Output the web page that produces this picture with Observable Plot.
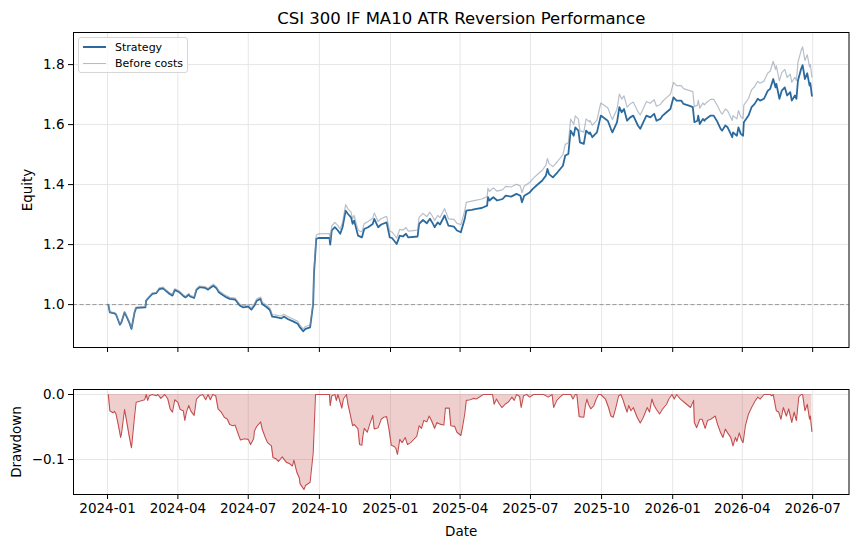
<!DOCTYPE html>
<html><head><meta charset="utf-8">
<script src="https://cdn.jsdelivr.net/npm/d3@7"></script>
<script src="https://cdn.jsdelivr.net/npm/@observablehq/plot@0.6"></script>
<style>
body{margin:0;background:#fff;font-family:"DejaVu Sans",sans-serif}
#wrap{position:relative;width:857px;height:547px;overflow:hidden}
#wrap svg{display:block}
.legend{position:absolute;left:78px;top:37px;width:108px;height:34px;border:1px solid #d6d6d6;border-radius:3px;background:rgba(255,255,255,0.8);font-family:"DejaVu Sans",sans-serif;font-size:11px;color:#000}
.row{position:absolute;left:4px;height:14px;display:flex;align-items:center}
.sw{width:23px;margin-right:9px}
</style></head>
<body><div id="wrap"></div>
<script>
const title = "CSI 300 IF MA10 ATR Reversion Performance";
const xTicks = ["2024-01-01","2024-04-01","2024-07-01","2024-10-01","2025-01-01","2025-04-01","2025-07-01","2025-10-01","2026-01-01","2026-04-01","2026-07-01"];
const yTicksEquity = [1.0, 1.2, 1.4, 1.6, 1.8];
const yTicksDrawdown = [0.0, -0.1];

const dates = ["2024-01-02","2024-01-04","2024-01-10","2024-01-12","2024-01-17","2024-01-19","2024-01-23","2024-01-26","2024-01-29","2024-02-01",
"2024-02-05","2024-02-07","2024-02-19","2024-02-20","2024-02-23","2024-02-28","2024-03-04","2024-03-08","2024-03-13","2024-03-15",
"2024-03-21","2024-03-25","2024-03-28","2024-04-03","2024-04-08","2024-04-11","2024-04-15","2024-04-17","2024-04-22","2024-04-25",
"2024-04-29","2024-05-06","2024-05-10","2024-05-13","2024-05-17","2024-05-21","2024-05-24","2024-05-29","2024-06-03","2024-06-07",
"2024-06-14","2024-06-20","2024-06-24","2024-07-01","2024-07-05","2024-07-09","2024-07-12","2024-07-17","2024-07-19","2024-07-25",
"2024-07-29","2024-08-01","2024-08-06","2024-08-13","2024-08-16","2024-08-21","2024-08-28","2024-09-03","2024-09-06","2024-09-10",
"2024-09-13","2024-09-19","2024-09-23","2024-09-24","2024-09-27","2024-09-30","2024-10-14","2024-10-15","2024-10-17","2024-10-21",
"2024-10-25","2024-10-28","2024-10-31","2024-11-04","2024-11-07","2024-11-11","2024-11-13","2024-11-15","2024-11-20","2024-11-25",
"2024-11-28","2024-12-03","2024-12-09","2024-12-11","2024-12-16","2024-12-20","2024-12-27","2024-12-31","2025-01-03","2025-01-09",
"2025-01-13","2025-01-17","2025-01-21","2025-01-24","2025-02-05","2025-02-07","2025-02-12","2025-02-17","2025-02-21","2025-02-25",
"2025-02-27","2025-03-03","2025-03-06","2025-03-12","2025-03-17","2025-03-24","2025-03-28","2025-04-02","2025-04-07","2025-04-09",
"2025-04-16","2025-04-22","2025-04-29","2025-05-06","2025-05-07","2025-05-09","2025-05-14","2025-05-19","2025-05-26","2025-05-30",
"2025-06-06","2025-06-13","2025-06-18","2025-06-20","2025-06-23","2025-06-30","2025-07-04","2025-07-11","2025-07-16","2025-07-21",
"2025-07-23","2025-07-25","2025-07-30","2025-08-05","2025-08-12","2025-08-15","2025-08-19","2025-08-22","2025-08-26","2025-08-28",
"2025-09-01","2025-09-03","2025-09-08","2025-09-11","2025-09-15","2025-09-16","2025-09-19","2025-09-25","2025-09-30","2025-10-09",
"2025-10-13","2025-10-15","2025-10-21","2025-10-24","2025-10-27","2025-10-30","2025-11-03","2025-11-07","2025-11-11","2025-11-17",
"2025-11-20","2025-11-24","2025-11-28","2025-12-03","2025-12-08","2025-12-11","2025-12-16","2025-12-19","2025-12-24","2025-12-29",
"2026-01-02","2026-01-06","2026-01-12","2026-01-15","2026-01-22","2026-01-27","2026-01-29","2026-02-02","2026-02-03","2026-02-05",
"2026-02-09","2026-02-11","2026-02-13","2026-02-19","2026-02-23","2026-02-27","2026-03-04","2026-03-06","2026-03-10","2026-03-13",
"2026-03-19","2026-03-20","2026-03-25","2026-03-27","2026-03-30","2026-04-02","2026-04-03","2026-04-09","2026-04-13","2026-04-17",
"2026-04-21","2026-04-24","2026-04-29","2026-05-04","2026-05-07","2026-05-11","2026-05-14","2026-05-15","2026-05-19","2026-05-22",
"2026-05-26","2026-05-29","2026-06-02","2026-06-04","2026-06-08","2026-06-10","2026-06-12","2026-06-16","2026-06-18","2026-06-21",
"2026-06-24","2026-06-27","2026-06-28","2026-06-30"];

const strategy = [1.000,0.974,0.971,0.967,0.933,0.941,0.974,0.958,0.941,0.919,
0.974,0.989,0.991,1.013,1.022,1.036,1.038,1.052,1.054,1.049,
1.036,1.030,1.049,1.041,1.029,1.024,1.033,1.027,1.022,1.049,
1.058,1.056,1.050,1.056,1.063,1.054,1.041,1.032,1.024,1.019,
1.017,0.997,0.991,0.993,0.983,0.997,1.013,1.019,1.002,0.991,
0.982,0.960,0.958,0.954,0.960,0.952,0.944,0.936,0.924,0.911,
0.919,0.924,1.002,1.102,1.219,1.222,1.222,1.200,1.247,1.258,
1.247,1.236,1.258,1.313,1.302,1.291,1.269,1.280,1.230,1.224,
1.252,1.258,1.269,1.286,1.258,1.267,1.274,1.224,1.222,1.202,
1.230,1.227,1.236,1.224,1.227,1.269,1.282,1.271,1.286,1.269,
1.258,1.274,1.267,1.297,1.263,1.260,1.247,1.241,1.286,1.313,
1.316,1.319,1.322,1.330,1.358,1.347,1.358,1.347,1.352,1.363,
1.360,1.369,1.363,1.341,1.363,1.374,1.386,1.402,1.413,1.430,
1.452,1.435,1.424,1.441,1.463,1.497,1.502,1.580,1.563,1.591,
1.580,1.541,1.536,1.580,1.569,1.574,1.558,1.574,1.630,1.613,
1.586,1.574,1.608,1.658,1.641,1.652,1.613,1.624,1.630,1.597,
1.586,1.608,1.630,1.624,1.636,1.613,1.619,1.630,1.641,1.652,
1.691,1.680,1.680,1.669,1.663,1.658,1.608,1.613,1.630,1.602,
1.619,1.613,1.619,1.630,1.630,1.613,1.586,1.580,1.597,1.591,
1.558,1.574,1.563,1.591,1.569,1.563,1.608,1.630,1.658,1.669,
1.686,1.680,1.686,1.713,1.719,1.752,1.724,1.736,1.686,1.713,
1.724,1.697,1.708,1.680,1.697,1.686,1.747,1.785,1.798,1.752,
1.771,1.730,1.738,1.696];

const beforeCosts = [1.000,0.976,0.973,0.969,0.935,0.943,0.977,0.961,0.944,0.922,
0.977,0.992,0.994,1.016,1.025,1.039,1.041,1.056,1.058,1.053,
1.040,1.034,1.053,1.045,1.033,1.028,1.037,1.031,1.026,1.053,
1.062,1.060,1.054,1.061,1.068,1.059,1.046,1.037,1.029,1.024,
1.022,1.002,0.996,0.999,0.989,1.003,1.019,1.025,1.008,0.998,
0.989,0.967,0.965,0.962,0.968,0.960,0.952,0.944,0.932,0.919,
0.927,0.932,1.011,1.112,1.231,1.236,1.237,1.215,1.262,1.274,
1.263,1.252,1.274,1.333,1.319,1.308,1.286,1.297,1.248,1.242,
1.270,1.277,1.288,1.305,1.277,1.287,1.294,1.244,1.242,1.222,
1.251,1.248,1.257,1.245,1.248,1.291,1.304,1.293,1.308,1.291,
1.280,1.297,1.290,1.320,1.286,1.284,1.271,1.266,1.313,1.341,
1.345,1.348,1.352,1.360,1.388,1.377,1.389,1.378,1.383,1.394,
1.392,1.401,1.395,1.373,1.395,1.407,1.419,1.436,1.447,1.465,
1.487,1.470,1.460,1.477,1.500,1.534,1.539,1.618,1.601,1.629,
1.618,1.580,1.575,1.619,1.609,1.614,1.598,1.615,1.672,1.656,
1.629,1.617,1.652,1.702,1.685,1.696,1.658,1.669,1.675,1.643,
1.632,1.654,1.677,1.671,1.683,1.661,1.667,1.678,1.690,1.701,
1.741,1.730,1.730,1.720,1.714,1.710,1.660,1.665,1.682,1.655,
1.672,1.666,1.672,1.684,1.684,1.667,1.641,1.635,1.652,1.646,
1.614,1.630,1.619,1.647,1.626,1.620,1.665,1.687,1.716,1.727,
1.744,1.738,1.745,1.772,1.778,1.811,1.784,1.796,1.746,1.773,
1.784,1.757,1.768,1.741,1.758,1.747,1.808,1.846,1.859,1.814,
1.833,1.792,1.800,1.758];

const ddDates = ["2024-01-02","2024-01-03","2024-01-04","2024-01-08","2024-01-10","2024-01-12","2024-01-15","2024-01-18","2024-01-19","2024-01-23",
"2024-01-26","2024-01-29","2024-02-01","2024-02-05","2024-02-07","2024-02-18","2024-02-20","2024-02-22","2024-02-24","2024-02-28",
"2024-03-04","2024-03-06","2024-03-10","2024-03-15","2024-03-19","2024-03-21","2024-03-22","2024-03-25","2024-03-28","2024-04-01",
"2024-04-04","2024-04-08","2024-04-10","2024-04-12","2024-04-15","2024-04-18","2024-04-22","2024-04-25","2024-04-29","2024-05-03",
"2024-05-07","2024-05-10","2024-05-13","2024-05-16","2024-05-20","2024-05-23","2024-05-27","2024-05-31","2024-06-04","2024-06-07",
"2024-06-11","2024-06-14","2024-06-19","2024-06-21","2024-06-26","2024-07-01","2024-07-04","2024-07-08","2024-07-09","2024-07-12",
"2024-07-17","2024-07-19","2024-07-23","2024-07-26","2024-07-31","2024-08-02","2024-08-06","2024-08-09","2024-08-14","2024-08-19",
"2024-08-23","2024-08-27","2024-08-29","2024-09-02","2024-09-05","2024-09-06","2024-09-11","2024-09-13","2024-09-19","2024-09-23",
"2024-09-26","2024-10-14","2024-10-15","2024-10-17","2024-10-21","2024-10-23","2024-10-25","2024-10-30","2024-11-01","2024-11-05",
"2024-11-07","2024-11-08","2024-11-13","2024-11-15","2024-11-20","2024-11-22","2024-11-25","2024-11-26","2024-11-28","2024-12-02",
"2024-12-05","2024-12-09","2024-12-11","2024-12-16","2024-12-20","2024-12-23","2024-12-27","2024-12-30","2025-01-02","2025-01-06",
"2025-01-08","2025-01-10","2025-01-13","2025-01-16","2025-01-20","2025-01-23","2025-01-27","2025-01-31","2025-02-04","2025-02-07",
"2025-02-10","2025-02-13","2025-02-17","2025-02-20","2025-02-23","2025-02-27","2025-03-02","2025-03-07","2025-03-11","2025-03-13",
"2025-03-18","2025-03-20","2025-03-25","2025-03-28","2025-04-02","2025-04-04","2025-04-07","2025-04-09","2025-04-14","2025-04-18",
"2025-04-22","2025-04-27","2025-05-01","2025-05-13","2025-05-15","2025-05-18","2025-05-22","2025-05-25","2025-05-29","2025-06-02",
"2025-06-07","2025-06-10","2025-06-13","2025-06-17","2025-06-19","2025-06-22","2025-06-26","2025-06-30","2025-07-05","2025-07-18",
"2025-07-24","2025-07-29","2025-07-31","2025-08-04","2025-08-08","2025-08-12","2025-08-22","2025-08-25","2025-08-28","2025-08-30",
"2025-09-02","2025-09-08","2025-09-10","2025-09-12","2025-09-14","2025-09-17","2025-09-21","2025-09-24","2025-09-27","2025-09-30",
"2025-10-06","2025-10-10","2025-10-13","2025-10-16","2025-10-19","2025-10-23","2025-10-26","2025-10-29","2025-10-31","2025-11-03",
"2025-11-05","2025-11-08","2025-11-11","2025-11-16","2025-11-20","2025-11-24","2025-11-29","2025-12-02","2025-12-05","2025-12-08",
"2025-12-11","2025-12-15","2025-12-19","2025-12-24","2025-12-27","2025-12-31","2026-01-03","2026-01-06","2026-01-11","2026-01-17",
"2026-01-24","2026-01-28","2026-01-29","2026-02-01","2026-02-05","2026-02-08","2026-02-12","2026-02-15","2026-02-19","2026-02-25",
"2026-02-28","2026-03-04","2026-03-07","2026-03-10","2026-03-13","2026-03-17","2026-03-20","2026-03-23","2026-03-25","2026-03-28",
"2026-03-31","2026-04-02","2026-04-05","2026-04-09","2026-04-13","2026-04-18","2026-04-21","2026-04-24","2026-04-29","2026-05-07",
"2026-05-09","2026-05-11","2026-05-15","2026-05-18","2026-05-21","2026-05-24","2026-05-28","2026-05-31","2026-06-04","2026-06-07",
"2026-06-10","2026-06-13","2026-06-16","2026-06-18","2026-06-21","2026-06-24","2026-06-27","2026-06-28","2026-06-30"];

const drawdown = [0,-0.012,-0.025,-0.028,-0.026,-0.030,-0.047,-0.066,-0.061,-0.023,
-0.043,-0.064,-0.082,-0.033,-0.012,-0.008,0,-0.009,-0.002,0,
-0.002,0,-0.006,0,-0.007,-0.017,-0.022,-0.027,-0.008,-0.012,
-0.023,-0.025,-0.040,-0.027,-0.017,-0.026,-0.032,-0.007,-0.002,0,
-0.008,0,-0.008,0,-0.002,-0.022,-0.027,-0.035,-0.038,-0.046,
-0.048,-0.047,-0.064,-0.070,-0.068,-0.069,-0.077,-0.068,-0.056,-0.049,
-0.042,-0.053,-0.066,-0.074,-0.079,-0.097,-0.099,-0.103,-0.096,-0.104,
-0.106,-0.110,-0.101,-0.120,-0.128,-0.137,-0.146,-0.140,-0.135,-0.090,
0,0,-0.017,-0.002,0,-0.009,0,-0.021,-0.007,0,
-0.015,-0.020,-0.048,-0.046,-0.053,-0.077,-0.078,-0.066,-0.052,-0.058,
-0.046,-0.032,-0.053,-0.051,-0.038,-0.035,-0.034,-0.053,-0.078,-0.080,
-0.083,-0.092,-0.069,-0.074,-0.066,-0.077,-0.074,-0.069,-0.064,-0.048,
-0.052,-0.040,-0.042,-0.033,-0.040,-0.052,-0.043,-0.046,-0.047,-0.021,
-0.021,-0.048,-0.049,-0.058,-0.063,-0.051,-0.030,-0.009,-0.008,-0.006,
-0.007,-0.003,0,0,-0.015,-0.007,-0.015,-0.020,-0.015,-0.012,
-0.004,-0.009,0,-0.003,-0.020,-0.002,0,-0.004,0,0,
-0.004,0,-0.020,-0.009,-0.004,0,0,-0.007,0,0,
-0.034,-0.035,-0.017,-0.007,-0.015,-0.022,-0.017,-0.007,0,0,
-0.007,-0.020,-0.033,-0.035,-0.022,-0.002,0,-0.009,-0.017,-0.027,
-0.017,-0.025,-0.020,-0.035,-0.044,-0.035,-0.020,-0.027,-0.007,-0.017,
-0.023,-0.030,-0.022,-0.015,-0.007,0,-0.007,0,-0.007,-0.013,
-0.020,-0.009,-0.043,-0.051,-0.038,-0.038,-0.052,-0.040,-0.038,-0.033,
-0.046,-0.059,-0.066,-0.053,-0.059,-0.066,-0.079,-0.066,-0.072,-0.059,
-0.070,-0.074,-0.048,-0.030,-0.020,-0.009,-0.004,-0.007,0,0,
-0.002,0,-0.025,-0.027,-0.038,-0.020,-0.033,-0.022,-0.043,-0.027,
-0.040,-0.004,0,0,-0.025,-0.015,-0.038,-0.033,-0.057];

const parse = d3.utcParse("%Y-%m-%d");
const equity = dates.map((d, i) => ({date: parse(d), strategy: strategy[i], before: beforeCosts[i]}));
const dd = ddDates.map((d, i) => ({date: parse(d), dd: drawdown[i]}));
const tickDates = xTicks.map(parse);
const xDomain = [parse("2023-11-18"), parse("2026-08-17")];

const fontStyle = {fontFamily: "'DejaVu Sans', sans-serif", fontSize: "13.5px", background: "white", color: "#000", overflow: "visible"};
const gridColor = "#e6e6e6";

const topChart = Plot.plot({
  width: 857, height: 360,
  marginLeft: 73, marginRight: 8.5, marginTop: 32, marginBottom: 13,
  style: fontStyle,
  x: {type: "utc", domain: xDomain},
  y: {domain: [0.857, 1.907]},
  marks: [
    Plot.gridX(tickDates, {stroke: gridColor, strokeOpacity: 1}),
    Plot.gridY(yTicksEquity, {stroke: gridColor, strokeOpacity: 1}),
    Plot.ruleY([1], {stroke: "#9a9a9a", strokeWidth: 1, strokeDasharray: "4,2.5"}),
    Plot.line(equity, {x: "date", y: "strategy", stroke: "#2b6a9e", strokeWidth: 1.8}),
    Plot.line(equity, {x: "date", y: "before", stroke: "#8794a6", strokeOpacity: 0.6, strokeWidth: 1.2}),
    Plot.axisX({ticks: tickDates, tickFormat: () => "", tickSize: 5, label: null}),
    Plot.axisY({ticks: yTicksEquity, tickFormat: d3.format(".1f"), tickSize: 5, tickPadding: 4,
      label: "Equity", labelAnchor: "center", labelArrow: "none", labelOffset: 51}),
    Plot.frame({stroke: "#000", strokeWidth: 1}),
    Plot.text([title], {frameAnchor: "top", lineAnchor: "middle", dy: -14, fontSize: 16.5, fill: "#000"})
  ]
});

const bottomChart = Plot.plot({
  width: 857, height: 187,
  marginLeft: 73, marginRight: 8.5, marginTop: 29, marginBottom: 53,
  style: fontStyle,
  x: {type: "utc", domain: xDomain},
  y: {domain: [-0.1538, 0.0077]},
  marks: [
    Plot.gridX(tickDates, {stroke: gridColor, strokeOpacity: 1}),
    Plot.gridY(yTicksDrawdown, {stroke: gridColor, strokeOpacity: 1}),
    Plot.areaY(dd, {x: "date", y: "dd", fill: "#c44e4e", fillOpacity: 0.28}),
    Plot.line(dd, {x: "date", y: "dd", stroke: "#c44e4e", strokeWidth: 1.1}),
    Plot.axisX({ticks: tickDates, tickFormat: d3.utcFormat("%Y-%m"), tickSize: 5, tickPadding: 4,
      label: "Date", labelAnchor: "center", labelArrow: "none", labelOffset: 41}),
    Plot.axisY({ticks: yTicksDrawdown, tickFormat: d3.format(".1f"), tickSize: 5, tickPadding: 4,
      label: "Drawdown", labelAnchor: "center", labelArrow: "none", labelOffset: 62}),
    Plot.frame({stroke: "#000", strokeWidth: 1})
  ]
});

const wrap = document.getElementById("wrap");
wrap.appendChild(topChart);
wrap.appendChild(bottomChart);

const legend = document.createElement("div");
legend.className = "legend";
legend.innerHTML =
  '<div class="row" style="top:2px"><div class="sw" style="border-top:2px solid #2b6a9e"></div>Strategy</div>' +
  '<div class="row" style="top:18px"><div class="sw" style="border-top:1.2px solid #b3bcc8"></div>Before costs</div>';
wrap.appendChild(legend);
</script>
</body></html>
